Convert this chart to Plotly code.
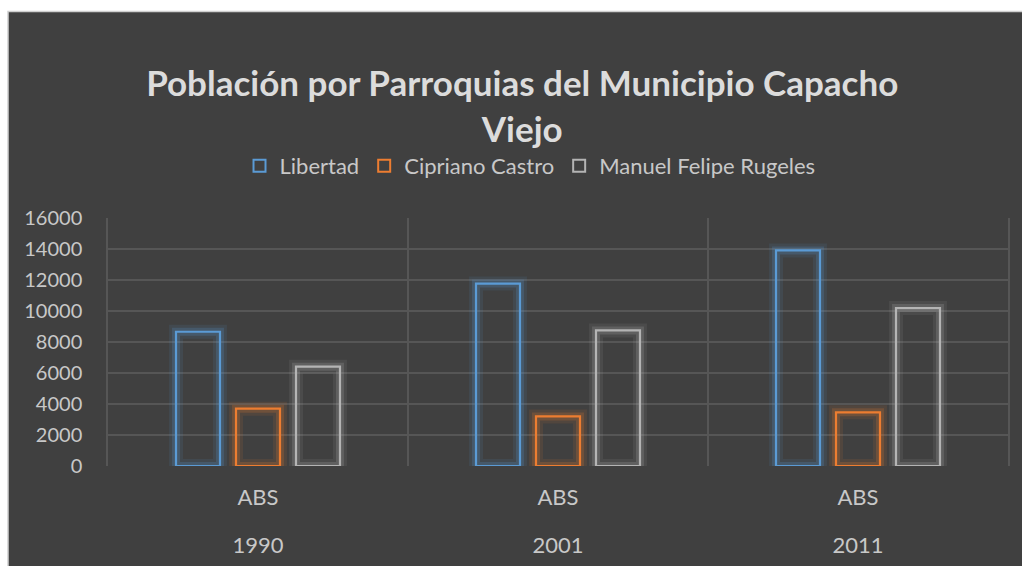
import plotly.graph_objects as go

years = ["1990", "2001", "2011"]
level = ["ABS", "ABS", "ABS"]
series_names = ["Libertad", "Cipriano Castro", "Manuel Felipe Rugeles"]
libertad = [8660, 11770, 13910]
cipriano = [3700, 3200, 3460]
manuel = [6410, 8750, 10190]
y_ticks = [0, 2000, 4000, 6000, 8000, 10000, 12000, 14000, 16000]

colors = ["#5B9BD5", "#ED7D31", "#B4B4B4"]
glow_rgb = ["91,155,213", "237,125,49", "180,180,180"]
FONT = "Lato, Carlito, Calibri, sans-serif"

fig = go.Figure()
for name, vals, c, rgb in zip(series_names, [libertad, cipriano, manuel], colors, glow_rgb):
    # soft glow layers (on the base x axis)
    fig.add_trace(go.Bar(x=years, y=vals, offsetgroup=name, showlegend=False,
                         hoverinfo="skip", xaxis="x",
                         marker=dict(color="rgba(0,0,0,0)",
                                     line=dict(color=f"rgba({rgb},0.10)", width=14))))
    fig.add_trace(go.Bar(x=years, y=vals, offsetgroup=name, showlegend=False,
                         hoverinfo="skip", xaxis="x",
                         marker=dict(color="rgba(0,0,0,0)",
                                     line=dict(color=f"rgba({rgb},0.20)", width=8))))
for name, vals, c in zip(series_names, [libertad, cipriano, manuel], colors):
    fig.add_trace(go.Bar(x=years, y=vals, name=name, offsetgroup=name, xaxis="x2",
                         marker=dict(color="rgba(0,0,0,0)", line=dict(color=c, width=2.2))))

W, H = 1022, 566
ml, mr, mt, mb = 108, 14, 218, 100
pw, ph = W - ml - mr, H - mt - mb

def px_x(p):
    return (p - ml) / pw

def px_y(p):
    return 1 - (p - mt) / ph

fig.add_shape(type="rect", xref="paper", yref="paper", layer="below",
              x0=px_x(8), x1=px_x(W + 5), y0=px_y(H + 5), y1=px_y(11.5),
              fillcolor="#404040", line=dict(color="#cfcfcf", width=1.5))

fig.update_layout(
    width=W, height=H,
    paper_bgcolor="white", plot_bgcolor="rgba(0,0,0,0)",
    margin=dict(l=ml, r=mr, t=mt, b=mb, autoexpand=False),
    barmode="group", bargap=0.4, bargroupgap=0.267,
    font=dict(family=FONT, color="#c8c8c8", size=22),
    title=dict(text="Población por Parroquias del Municipio Capacho<br>Viejo",
               font=dict(family=FONT, size=35, color="#dcdcdc", weight="bold"),
               x=0.511, xanchor="center", xref="container",
               y=1 - 96 / H, yanchor="middle", yref="container"),
    legend=dict(orientation="h", xref="container", yref="container",
                x=0.5186, xanchor="center", y=1 - 166 / H, yanchor="middle",
                font=dict(size=22, color="#c8c8c8"), bgcolor="rgba(0,0,0,0)",
                itemsizing="constant", traceorder="normal"),
    showlegend=True,
    xaxis=dict(type="category", categoryarray=years, range=[-0.5, 2.5],
               tickson="boundaries", showgrid=True, gridcolor="#565656", gridwidth=1.5,
               ticks="", showline=False, zeroline=False,
               tickvals=years, ticktext=years, ticklabelstandoff=64),
    xaxis2=dict(type="category", categoryarray=years, range=[-0.5, 2.5],
                overlaying="x", side="bottom", showgrid=False, ticks="",
                showline=False, zeroline=False,
                tickvals=years, ticktext=level, ticklabelstandoff=16),
    yaxis=dict(range=[0, 16000], tickvals=y_ticks, ticktext=[str(v) for v in y_ticks],
               showgrid=True, gridcolor="#565656", gridwidth=1.5, ticks="",
               showline=True, linecolor="#565656", linewidth=1.5, mirror=True,
               zeroline=False, ticklabelstandoff=20,
               tickfont=dict(size=20)),
)

fig.write_html("out.html", config={"displayModeBar": False},
               post_script="document.body.style.margin='0';document.body.style.overflow='hidden';")
